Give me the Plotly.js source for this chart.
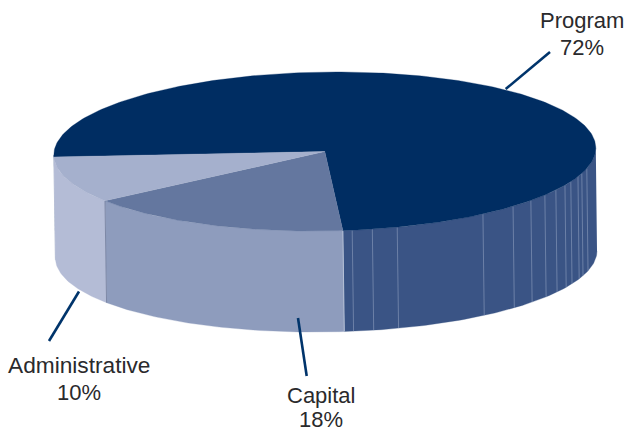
<!DOCTYPE html>
<html>
<head>
<meta charset="utf-8">
<script src="https://cdn.plot.ly/plotly-3.0.1.min.js"></script>
<style>html,body{margin:0;padding:0;background:#fff}#chart{width:626px;height:432px}</style>
</head>
<body>
<div id="chart"></div>
<script>
// Data
var categories = ['Program', 'Capital', 'Administrative'];
var shares = [72, 18, 10];

// Styles
var topColors  = ['#002d62', '#64779f', '#a5b0cd'];
var sideColors = ['#3a5485', '#8e9cbd', '#b4bcd6'];
var textColor = '#2a2a2c';
var leaderColor = '#00346b';
var seamColor = 'rgba(142,158,190,0.6)';

// Drawing geometry of the tilted disc (page pixels)
var topFace = {cx: 324.8, cy: 151.5, rx: 271, ry: 79.5};
var baseFace = {cx: 326.2, cy: 254.5, rx: 270.8, ry: 77.5};
var skew = 0.013;
var startAngle = 185.2;
var perspective = 6.6;
var seamAngles = [84.2, 79.9, 74.5, 54.3, 46, 40.5, 35.7, 31.5, 27.6, 24.8, 20.9, 18.5, 14.8];

function warp(a) { return a + perspective * Math.sin((a - 280) * Math.PI / 180); }
function pt(face, deg) {
  var r = deg * Math.PI / 180;
  var x = face.cx + face.rx * Math.cos(r);
  return [x, face.cy + face.ry * Math.sin(r) - skew * (x - face.cx)];
}
function arc(face, a, b) {
  var out = [], n = Math.max(2, Math.ceil(Math.abs(b - a)));
  for (var i = 0; i <= n; i++) out.push(pt(face, a + (b - a) * i / n));
  return out;
}
function poly(points, fill, name) {
  return {type: 'scatter', mode: 'lines', x: points.map(function (p) { return p[0]; }),
    y: points.map(function (p) { return p[1]; }), fill: 'toself', fillcolor: fill,
    line: {width: 0.3, color: fill}, hoverinfo: 'skip', showlegend: false, name: name};
}
function seg(a, b, color, w) {
  return {type: 'scatter', mode: 'lines', x: [a[0], b[0]], y: [a[1], b[1]],
    line: {width: w, color: color}, hoverinfo: 'skip', showlegend: false};
}

var total = shares.reduce(function (s, v) { return s + v; }, 0);
var spans = [], cursor = startAngle;
shares.forEach(function (v) {
  var next = cursor + v / total * 360;
  spans.push([warp(cursor) , warp(next)]);
  cursor = next;
});

var traces = [];
// Side walls: only the near half of the rim is visible
spans.forEach(function (s, i) {
  [0, 360].forEach(function (off) {
    var a = Math.max(s[0], off), b = Math.min(s[1], off + 180);
    if (b > a) traces.push(poly(arc(topFace, a, b).concat(arc(baseFace, b, a)), sideColors[i], categories[i]));
  });
});
seamAngles.forEach(function (d) { traces.push(seg(pt(topFace, d), pt(baseFace, d), seamColor, 1)); });
var e0 = spans[0][1] - 360, e1 = spans[1][1];
traces.push(seg(pt(topFace, e1), pt(baseFace, e1), '#7d88a6', 1));
traces.push(seg(pt(topFace, e0), pt(baseFace, e0), '#b5c0d6', 1));
// Top faces
var centre = [topFace.cx, topFace.cy];
spans.forEach(function (s, i) {
  traces.push(poly([centre].concat(arc(topFace, s[0], s[1])).concat([centre]), topColors[i], categories[i]));
});

// Labels
var labelPos = [
  {x: 581.5, nameY: 20, pctY: 47},
  {x: 320.5, nameY: 395, pctY: 419.5},
  {x: 79, nameY: 365, pctY: 392}
];
var labelSizes = [22, 22, 22.7];
var annotations = [];
categories.forEach(function (c, i) {
  var font = {family: 'Liberation Sans, Arial, sans-serif', size: labelSizes[i], color: textColor};
  var pctFont = {family: font.family, size: 22, color: textColor};
  annotations.push({xref: 'x', yref: 'y', x: labelPos[i].x, y: labelPos[i].nameY, text: c, showarrow: false, font: font, xanchor: 'center', yanchor: 'middle'});
  annotations.push({xref: 'x', yref: 'y', x: labelPos[i].x, y: labelPos[i].pctY, text: shares[i] + '%', showarrow: false, font: pctFont, xanchor: 'center', yanchor: 'middle'});
});
var leaders = [[505.7, 89, 550, 52], [298, 318, 306.7, 376], [79, 291.5, 49, 341]];
var shapes = leaders.map(function (l) {
  return {type: 'line', xref: 'x', yref: 'y', x0: l[0], y0: l[1], x1: l[2], y1: l[3], line: {color: leaderColor, width: 2.6}, layer: 'above'};
});

var hidden = {visible: false, showgrid: false, zeroline: false, fixedrange: true};
Plotly.newPlot('chart', traces, {
  width: 626, height: 432,
  margin: {l: 0, r: 0, t: 0, b: 0},
  paper_bgcolor: '#fff', plot_bgcolor: '#fff', showlegend: false,
  xaxis: Object.assign({range: [0, 626]}, hidden),
  yaxis: Object.assign({range: [432, 0]}, hidden),
  annotations: annotations, shapes: shapes
}, {staticPlot: true, displayModeBar: false});
</script>
</body>
</html>
